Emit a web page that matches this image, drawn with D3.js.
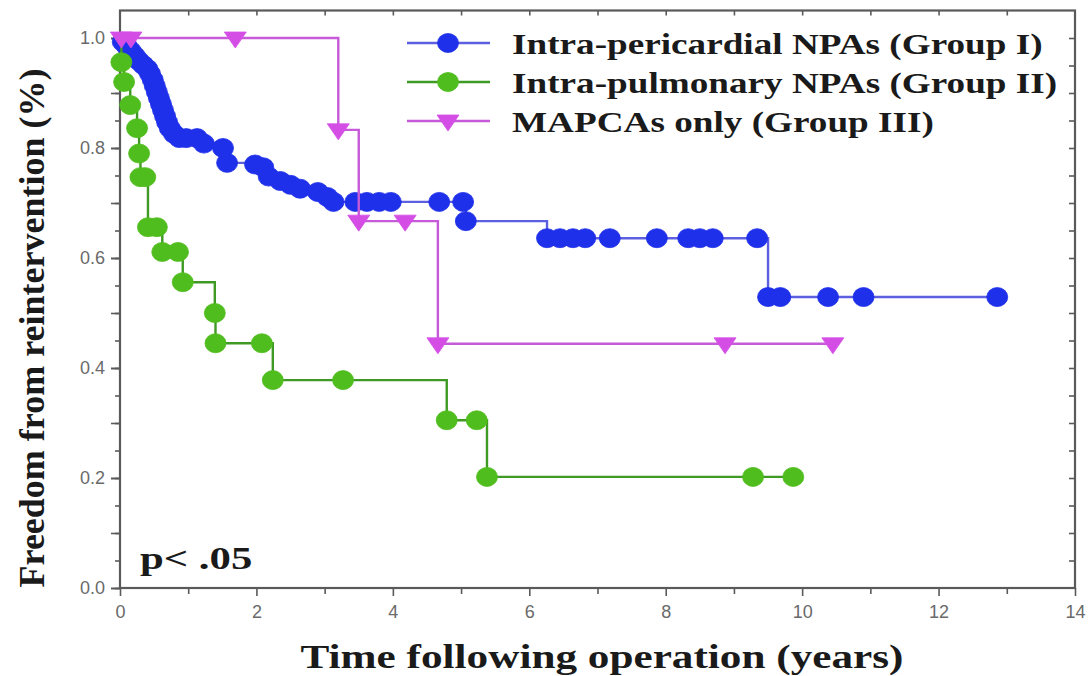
<!DOCTYPE html>
<html>
<head>
<meta charset="utf-8">
<script src="https://cdn.jsdelivr.net/npm/d3@7"></script>
<style>
  body { margin: 0; background: #ffffff; }
  svg { display: block; }
</style>
</head>
<body>
<svg id="chart" width="1092" height="676"></svg>
<script>
// ---- Kaplan-Meier data: symbol times (years) and freedom-from-reintervention values ----
const groupNames = [
  "Intra-pericardial NPAs (Group I)",
  "Intra-pulmonary NPAs (Group II)",
  "MAPCAs only (Group III)"
];

const group1Time = [0.04, 0.10, 0.16, 0.22, 0.28, 0.34, 0.40, 0.44, 0.48, 0.51, 0.54, 0.57, 0.60, 0.63,
  0.66, 0.69, 0.73, 0.79, 0.87, 0.97, 1.13, 1.23, 1.51, 1.57, 1.98, 2.10, 2.18, 2.35, 2.50, 2.64,
  2.90, 3.04, 3.13, 3.45, 3.62, 3.80, 3.97, 4.68, 5.03, 5.07, 6.26, 6.45, 6.64, 6.82, 7.18, 7.87,
  8.33, 8.50, 8.69, 9.34, 9.50, 9.68, 10.38, 10.90, 12.86];
const group1Surv = [0.993, 0.985, 0.976, 0.967, 0.958, 0.951, 0.944, 0.935, 0.924, 0.913, 0.902, 0.891, 0.880, 0.869,
  0.858, 0.847, 0.836, 0.826, 0.818, 0.818, 0.818, 0.808, 0.800, 0.773, 0.770, 0.765, 0.748, 0.740, 0.733, 0.726,
  0.720, 0.711, 0.702, 0.702, 0.702, 0.702, 0.702, 0.702, 0.702, 0.667, 0.636, 0.636, 0.636, 0.636, 0.636, 0.636,
  0.636, 0.636, 0.636, 0.636, 0.529, 0.529, 0.529, 0.529, 0.529];

const group2Time = [0.02, 0.06, 0.15, 0.25, 0.28, 0.30, 0.37, 0.41, 0.54, 0.62, 0.85, 0.92, 1.39, 1.40,
  2.08, 2.24, 3.27, 4.79, 5.23, 5.38, 9.28, 9.87];
const group2Surv = [0.956, 0.920, 0.878, 0.836, 0.790, 0.747, 0.747, 0.656, 0.656, 0.611, 0.611, 0.556, 0.500, 0.445,
  0.445, 0.378, 0.378, 0.305, 0.305, 0.202, 0.202, 0.202];

const group3Time = [0.02, 0.16, 1.69, 3.20, 3.50, 4.18, 4.66, 8.87, 10.45];
const group3Surv = [1.000, 1.000, 1.000, 0.833, 0.667, 0.667, 0.444, 0.444, 0.444];

const xTickValues = [0, 2, 4, 6, 8, 10, 12, 14];
const yTickValues = [0, 0.2, 0.4, 0.6, 0.8, 1.0];
const xTitle = "Time following operation (years)";
const yTitle = "Freedom from reintervention (%)";
const pValueText = "p< .05";

// ---- appearance ----
const styles = [
  { line: "#5c5fe0", fill: "#1f30ea", symbol: "circle" },
  { line: "#3f9a25", fill: "#4fbd1d", symbol: "circle" },
  { line: "#c65ad8", fill: "#d44ee6", symbol: "triangle" }
];
const serif = "'Liberation Serif', 'Times New Roman', serif";
const sans = "'Liberation Sans', Arial, sans-serif";

const svg = d3.select("#chart");
const x = d3.scaleLinear().domain([0, 14]).range([120, 1075]);
const y = d3.scaleLinear().domain([0, 1]).range([588, 38]);
const yMax = 1.05;

// ---- frame and axes ----
const axisColor = "#5a5a5a";
const labelColor = "#6a6a6a";

function styleAxis(g) {
  g.select(".domain").remove();
  g.selectAll(".tick line").attr("stroke", axisColor).attr("stroke-width", 1.6);
  g.selectAll(".tick text").attr("fill", labelColor).attr("font-family", sans).attr("font-size", 18);
}

// bottom axis: labelled every 2 years, minor every year
svg.append("g").attr("transform", `translate(0,${y(0)})`)
  .call(d3.axisBottom(x).tickValues(d3.range(1, 14, 2)).tickSize(6).tickFormat(""))
  .call(styleAxis);
svg.append("g").attr("transform", `translate(0,${y(0)})`)
  .call(d3.axisBottom(x).tickValues(xTickValues).tickSize(8).tickPadding(9).tickFormat(d3.format("d")))
  .call(styleAxis);

// left axis: labelled every 0.2, ticks every 0.05
svg.append("g").attr("transform", `translate(${x(0)},0)`)
  .call(d3.axisLeft(y).tickValues(d3.range(0, 1.001, 0.05)).tickSize(5).tickFormat(""))
  .call(styleAxis);
svg.append("g").attr("transform", `translate(${x(0)},0)`)
  .call(d3.axisLeft(y).tickValues(d3.range(0, 1.001, 0.1)).tickSize(9).tickFormat(""))
  .call(styleAxis);
svg.append("g").attr("transform", `translate(${x(0)},0)`)
  .call(d3.axisLeft(y).tickValues(yTickValues).tickSize(9).tickPadding(6).tickFormat(d3.format(".1f")))
  .call(styleAxis);

// right axis: inward ticks
svg.append("g").attr("transform", `translate(${x(14)},0)`)
  .call(d3.axisLeft(y).tickValues(d3.range(0.05, 1.001, 0.05)).tickSize(6).tickFormat(""))
  .call(styleAxis);
// top axis: inward ticks
svg.append("g").attr("transform", `translate(0,${y(yMax)})`)
  .call(d3.axisBottom(x).tickValues(d3.range(1, 14, 1)).tickSize(5).tickFormat(""))
  .call(styleAxis);

svg.append("rect")
  .attr("x", x(0)).attr("y", y(yMax))
  .attr("width", x(14) - x(0)).attr("height", y(0) - y(yMax))
  .attr("fill", "none").attr("stroke", axisColor).attr("stroke-width", 2.2);

// ---- survival curves ----
const series = [
  { t: group1Time, s: group1Surv },
  { t: group2Time, s: group2Surv },
  { t: group3Time, s: group3Surv }
].map((d, i) => ({
  name: groupNames[i],
  style: styles[i],
  points: d.t.map((t, j) => ({ t, s: d.s[j] }))
}));

const step = d3.line().x(d => x(d.t)).y(d => y(d.s)).curve(d3.curveStepAfter);
const triangle = "M-11,-6L11,-6L0,10Z";

function drawSymbol(sel, st) {
  if (st.symbol === "circle") {
    sel.append("ellipse").attr("rx", 10.5).attr("ry", 9.5)
      .attr("fill", st.fill).attr("stroke", st.fill).attr("stroke-width", 0.8);
  } else {
    sel.append("path").attr("d", triangle)
      .attr("fill", st.fill).attr("stroke", st.fill).attr("stroke-width", 0.8)
      .attr("stroke-linejoin", "round");
  }
}

series.forEach(sr => {
  const g = svg.append("g");
  g.append("path")
    .datum([{ t: 0, s: 1 }].concat(sr.points))
    .attr("d", step)
    .attr("fill", "none")
    .attr("stroke", sr.style.line)
    .attr("stroke-width", 2.4);
  g.selectAll("g.sym").data(sr.points).join("g")
    .attr("class", "sym")
    .attr("transform", d => `translate(${x(d.t)},${y(d.s)})`)
    .each(function () { drawSymbol(d3.select(this), sr.style); });
});

// ---- legend ----
const legend = svg.append("g").attr("transform", "translate(407,43)");
series.forEach((sr, i) => {
  const row = legend.append("g").attr("transform", `translate(0,${i * 39})`);
  row.append("line").attr("x1", 0).attr("x2", 83).attr("y1", 0).attr("y2", 0)
    .attr("stroke", sr.style.line).attr("stroke-width", 2.4);
  drawSymbol(row.append("g").attr("transform", "translate(41,0)"), sr.style);
  row.append("g").attr("transform", "translate(105,11) scale(1.24,1)")
    .append("text")
    .attr("font-family", serif).attr("font-weight", "bold").attr("font-size", 30)
    .attr("fill", "#1a1a1a")
    .text(sr.name);
});

// ---- titles and annotation ----
svg.append("g").attr("transform", "translate(602,668) scale(1.31,1)")
  .append("text")
  .attr("text-anchor", "middle")
  .attr("font-family", serif).attr("font-weight", "bold").attr("font-size", 33)
  .attr("fill", "#1a1a1a")
  .text(xTitle);

svg.append("text")
  .attr("transform", "translate(44,328) rotate(-90)")
  .attr("text-anchor", "middle")
  .attr("font-family", serif).attr("font-weight", "bold").attr("font-size", 36)
  .attr("fill", "#1a1a1a")
  .text(yTitle);

svg.append("g").attr("transform", "translate(140,569) scale(1.38,1)")
  .append("text")
  .attr("font-family", serif).attr("font-weight", "bold").attr("font-size", 31)
  .attr("fill", "#1a1a1a")
  .text(pValueText);
</script>
</body>
</html>
